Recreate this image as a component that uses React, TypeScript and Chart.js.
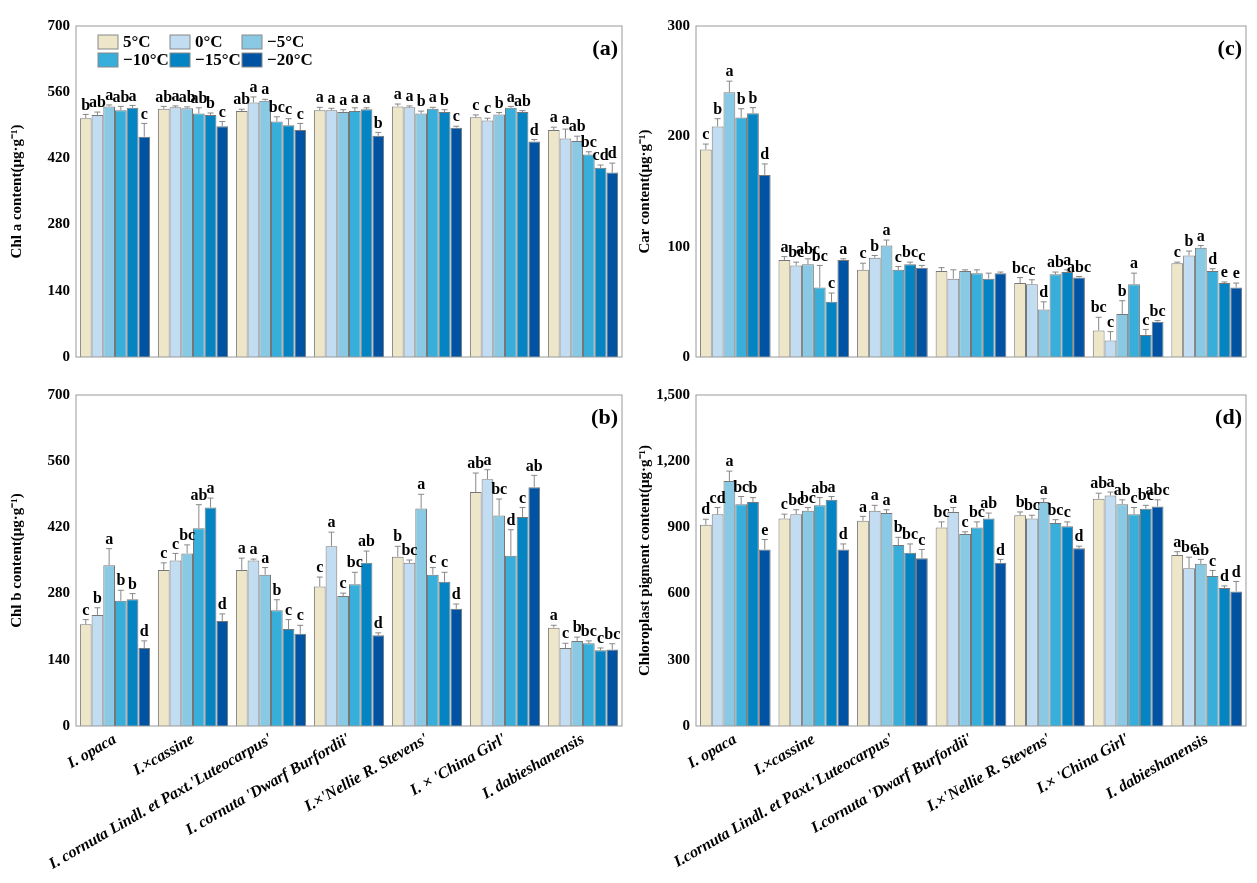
import React, { useEffect, useRef } from "react";
import { Chart, registerables } from "chart.js";
Chart.register(...registerables);

const seriesNames = ["5°C", "0°C", "−5°C", "−10°C", "−15°C", "−20°C"];
const colors = ["#EEE6C8", "#C2DDF2", "#89C9E3", "#37AFDA", "#0584C3", "#0052A2"];
const catsB = ["I. opaca", "I.×cassine", "I. cornuta Lindl. et Paxt.'Luteocarpus'", "I. cornuta 'Dwarf Burfordii'", "I.×'Nellie R. Stevens'", "I. × 'China Girl'", "I. dabieshanensis"];
const catsD = ["I. opaca", "I.×cassine", "I.cornuta Lindl. et Paxt.'Luteocarpus'", "I.cornuta 'Dwarf Burfordii'", "I.×'Nellie R. Stevens'", "I.× 'China Girl'", "I. dabieshanensis"];

// values per series (6 temperatures) across 7 cultivars
const chlA = [
  [505, 525, 520, 522, 530, 507, 480],
  [512, 528, 538, 522, 528, 500, 462],
  [530, 526, 542, 518, 515, 513, 457],
  [522, 515, 498, 520, 525, 527, 428],
  [527, 512, 490, 524, 518, 518, 400],
  [466, 488, 480, 468, 485, 456, 390],
];
const chlAErr = [
  [8, 5, 4, 6, 5, 5, 6], [6, 3, 12, 4, 3, 5, 20], [3, 3, 3, 5, 5, 4, 10],
  [8, 12, 10, 7, 3, 3, 6], [5, 4, 14, 3, 5, 3, 6], [28, 10, 14, 7, 3, 4, 20],
];
const chlALet = [
  ["b", "ab", "ab", "a", "a", "c", "a"], ["ab", "a", "a", "a", "a", "c", "a"], ["a", "ab", "a", "a", "b", "b", "ab"],
  ["ab", "ab", "bc", "a", "a", "a", "bc"], ["a", "b", "c", "a", "b", "ab", "cd"], ["c", "c", "c", "b", "c", "d", "d"],
];
const chlB = [
  [215, 330, 330, 295, 358, 495, 208],
  [235, 350, 350, 380, 345, 522, 165],
  [340, 365, 320, 275, 460, 445, 180],
  [265, 418, 245, 300, 320, 360, 175],
  [268, 462, 205, 345, 305, 442, 160],
  [165, 222, 195, 192, 248, 505, 162],
];
const chlBErr = [
  [10, 15, 25, 20, 22, 40, 5], [15, 15, 3, 30, 6, 20, 10], [35, 18, 15, 6, 30, 35, 8],
  [22, 50, 22, 25, 15, 55, 5], [12, 20, 20, 25, 20, 20, 5], [15, 15, 18, 5, 10, 25, 12],
];
const chlBLet = [
  ["c", "c", "a", "c", "b", "ab", "a"], ["b", "c", "a", "a", "bc", "a", "c"], ["a", "bc", "a", "c", "a", "bc", "b"],
  ["b", "ab", "b", "bc", "c", "d", "bc"], ["b", "a", "c", "ab", "c", "c", "c"], ["d", "d", "c", "d", "d", "ab", "bc"],
];
const car = [
  [188, 88, 79, 78, 67, 24, 85],
  [209, 83, 90, 71, 66, 15, 92],
  [240, 84, 101, 78, 43, 39, 99],
  [217, 63, 79, 76, 75, 66, 78],
  [221, 50, 84, 71, 77, 20, 67],
  [165, 88, 81, 76, 72, 32, 63],
];
const carErr = [
  [5, 3, 6, 3, 5, 12, 1], [7, 3, 2, 8, 4, 8, 4], [10, 5, 5, 1, 7, 12, 2],
  [8, 20, 3, 3, 2, 10, 2], [5, 8, 2, 5, 2, 5, 1], [10, 1, 2, 1, 1, 1, 4],
];
const carLet = [
  ["c", "a", "c", "", "bc", "bc", "c"], ["b", "bc", "b", "", "c", "c", "b"], ["a", "abc", "a", "", "d", "b", "a"],
  ["b", "bc", "c", "", "ab", "a", "d"], ["b", "c", "bc", "", "a", "c", "e"], ["d", "a", "c", "", "abc", "bc", "e"],
];
const chlp = [
  [912, 940, 930, 900, 955, 1030, 775],
  [960, 960, 975, 970, 940, 1045, 715],
  [1110, 975, 965, 870, 1015, 1005, 735],
  [1005, 1000, 820, 900, 920, 960, 680],
  [1015, 1025, 785, 940, 905, 985, 625],
  [800, 800, 760, 740, 805, 995, 610],
];
const chlpErr = [
  [25, 20, 20, 25, 15, 25, 15], [30, 20, 25, 20, 15, 15, 50], [45, 15, 15, 10, 15, 20, 20],
  [35, 35, 35, 25, 15, 30, 25], [20, 15, 40, 25, 20, 15, 10], [45, 25, 40, 15, 10, 30, 45],
];
const chlpLet = [
  ["d", "c", "a", "bc", "b", "ab", "a"], ["cd", "bc", "a", "a", "bc", "a", "bc"], ["a", "bc", "a", "c", "a", "ab", "ab"],
  ["bc", "ab", "b", "bc", "bc", "c", "c"], ["b", "a", "bc", "ab", "c", "bc", "d"], ["e", "d", "c", "d", "d", "abc", "d"],
];

const FONT = "'Liberation Serif', 'Times New Roman', serif";

function makeConfig(p: any) {
  const { cats, vals, errs, lets, max, step, title, tag, showX, padTop, yW, padRight, xH, legend } = p;
  const plugin = {
    id: "extras",
    afterDatasetsDraw(chart: any) {
      const ctx = chart.ctx;
      const y = chart.scales.y;
      const a = chart.chartArea;
      ctx.save();
      chart.data.datasets.forEach((ds: any, di: number) => {
        const meta = chart.getDatasetMeta(di);
        meta.data.forEach((el: any, i: number) => {
          const top = y.getPixelForValue(ds.data[i] + errs[di][i]);
          ctx.strokeStyle = "#888";
          ctx.lineWidth = 1;
          ctx.beginPath();
          ctx.moveTo(el.x, el.y);
          ctx.lineTo(el.x, top);
          ctx.moveTo(el.x - 3, top);
          ctx.lineTo(el.x + 3, top);
          ctx.stroke();
          ctx.fillStyle = "#000";
          ctx.font = `bold 16px ${FONT}`;
          ctx.textAlign = "center";
          ctx.textBaseline = "bottom";
          ctx.fillText(lets[di][i], el.x, top - 1);
        });
      });
      ctx.strokeStyle = "#999";
      ctx.lineWidth = 1;
      ctx.strokeRect(a.left, a.top, a.right - a.left, a.bottom - a.top);
      ctx.font = `bold 22px ${FONT}`;
      ctx.textAlign = "right";
      ctx.textBaseline = "top";
      ctx.fillStyle = "#000";
      ctx.fillText(tag, a.right - 4, a.top + 12);
      if (legend) {
        seriesNames.forEach((n, i) => {
          const col = i % 3, row = Math.floor(i / 3);
          const lx = a.left + 22 + col * 72;
          const ly = a.top + 9 + row * 18;
          ctx.fillStyle = colors[i];
          ctx.fillRect(lx, ly, 20, 14);
          ctx.strokeStyle = "#888";
          ctx.strokeRect(lx, ly, 20, 14);
          ctx.fillStyle = "#000";
          ctx.font = `bold 17px ${FONT}`;
          ctx.textAlign = "left";
          ctx.textBaseline = "middle";
          ctx.fillText(n, lx + 25, ly + 8);
        });
      }
      ctx.restore();
    },
  };
  return {
    type: "bar",
    data: {
      labels: cats,
      datasets: vals.map((v: number[], i: number) => ({
        label: seriesNames[i],
        data: v,
        backgroundColor: colors[i],
        borderColor: "#777",
        borderWidth: 1,
        categoryPercentage: 0.9,
        barPercentage: 1.0,
      })),
    },
    options: {
      animation: false,
      responsive: false,
      layout: { padding: { top: padTop, right: padRight, left: 0, bottom: 0 } },
      plugins: { legend: { display: false }, tooltip: { enabled: false } },
      scales: {
        x: {
          grid: { display: false, drawTicks: false },
          border: { display: false },
          ticks: {
            display: showX,
            maxRotation: 30,
            minRotation: 30,
            color: "#000",
            font: { family: FONT, size: 16, weight: "bold", style: "italic" },
            padding: 4,
          },
          afterFit: (s: any) => { s.height = xH; },
        },
        y: {
          min: 0,
          max,
          grid: { display: false, drawTicks: true, tickLength: 4 },
          border: { display: false },
          ticks: { stepSize: step, color: "#000", font: { family: FONT, size: 15, weight: "bold" }, padding: 2 },
          title: { display: true, text: title, color: "#000", font: { family: FONT, size: 15, weight: "bold" }, padding: 0 },
          afterFit: (s: any) => { s.width = yW; },
        },
      },
    },
    plugins: [plugin],
  };
}

function Panel(p: any) {
  const ref = useRef<HTMLCanvasElement>(null);
  useEffect(() => {
    const c = new Chart(ref.current as any, makeConfig(p) as any);
    return () => c.destroy();
  }, []);
  return (
    <canvas ref={ref} width={p.w} height={p.h}
      style={{ position: "absolute", left: p.left, top: p.top, width: p.w, height: p.h }} />
  );
}

export default function App() {
  return (
    <div style={{ position: "relative", width: 1257, height: 883 }}>
      <Panel left={0} top={0} w={628} h={360} cats={catsB} vals={chlA} errs={chlAErr} lets={chlALet}
        max={700} step={140} title="Chl a content(μg·g⁻¹)" tag="(a)" showX={false}
        padTop={18} yW={68} padRight={14} xH={11} legend />
      <Panel left={628} top={0} w={629} h={360} cats={catsB} vals={car} errs={carErr} lets={carLet}
        max={300} step={100} title="Car content(μg·g⁻¹)" tag="(c)" showX={false}
        padTop={18} yW={60} padRight={19} xH={11} />
      <Panel left={0} top={370} w={628} h={513} cats={catsB} vals={chlB} errs={chlBErr} lets={chlBLet}
        max={700} step={140} title="Chl b content(μg·g⁻¹)" tag="(b)" showX
        padTop={17} yW={68} padRight={14} xH={165} />
      <Panel left={628} top={370} w={629} h={513} cats={catsD} vals={chlp} errs={chlpErr} lets={chlpLet}
        max={1500} step={300} title="Chloroplast pigment content(μg·g⁻¹)" tag="(d)" showX
        padTop={17} yW={60} padRight={19} xH={165} />
    </div>
  );
}
